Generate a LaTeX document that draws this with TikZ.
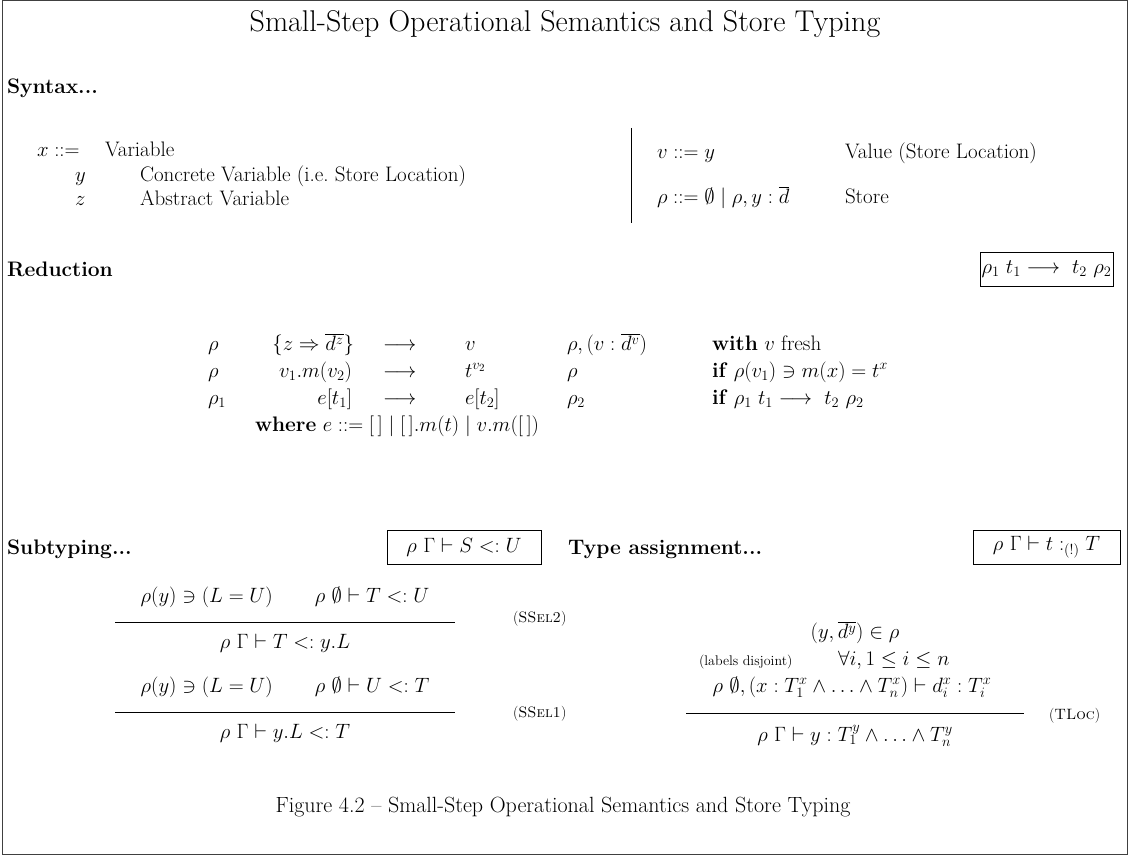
\documentclass[tikz,border=0pt]{standalone}
\usepackage{fontspec}
\tikzset{
  every node/.style={inner sep=0pt, outer sep=0pt},
  body/.style={font=\fontsize{21}{25}\selectfont},
  lbl/.style={body, anchor=base west},
  lble/.style={body, anchor=base east},
  ctr/.style={body, anchor=base},
  hd/.style={anchor=base west, font=\fontsize{21}{25}\selectfont\bfseries},
  judg/.style={draw, line width=0.7pt, body, minimum height=34pt},
  rname/.style={anchor=west, font=\fontsize{15}{18}\selectfont},
  small/.style={anchor=base west, font=\fontsize{14}{17}\selectfont},
  fracline/.style={line width=0.8pt},
  frame/.style={draw=black!75, line width=1pt},
}
\begin{document}
\begin{tikzpicture}[x=1pt,y=-1pt]
\useasboundingbox (0,0) rectangle (1129,856);
\draw[frame] (2,1) rectangle (1127,854);
% title
\node[anchor=base, font=\fontsize{30}{34}\selectfont] (title) at (565,32) {Small-Step Operational Semantics and Store Typing};
% syntax
\node[hd] (syn) at (7,94) {Syntax...};
\node[lbl] (x) at (37,157) {$x \mathrel{::=}$};
\node[lbl] (xd) at (105,157) {Variable};
\node[lbl] (y) at (75,181) {$y$};
\node[lbl] (yd) at (140,181) {Concrete Variable (i.e.\ Store Location)};
\node[lbl] (z) at (75,205) {$z$};
\node[lbl] (zd) at (140,205) {Abstract Variable};
\coordinate (bart) at (631,128);
\coordinate (barb) at (631,223);
\draw[line width=0.6pt] (bart) -- (barb);
\node[lbl] (v) at (657,158) {$v \mathrel{::=} y$};
\node[lbl] (vd) at (845,158) {Value (Store Location)};
\node[lbl] (rho) at (657,203) {$\rho \mathrel{::=} \emptyset \mid \rho, y : \overline{d}$};
\node[lbl] (rhod) at (845,203) {Store};
% reduction
\node[hd] (red) at (7,276) {Reduction};
\node[judg, minimum width=133pt] (redj) at (1046.5,269) {$\rho_1\ t_1 \longrightarrow\ t_2\ \rho_2$};
\node[lbl] (a1) at (208,350) {$\rho$};
\node[lble] (b1) at (354,350) {$\{z \Rightarrow \overline{d^z}\}$};
\node[lbl] (c1) at (383,350) {$\longrightarrow$};
\node[lbl] (d1) at (465,350) {$v$};
\node[lbl] (e1) at (567,350) {$\rho, (v : \overline{d^v})$};
\node[lbl] (f1) at (712,350) {\textbf{with} $v$ fresh};
\node[lbl] (a2) at (208,377) {$\rho$};
\node[lble] (b2) at (352,377) {$v_1.m(v_2)$};
\node[lbl] (c2) at (383,377) {$\longrightarrow$};
\node[lbl] (d2) at (465,377) {$t^{v_2}$};
\node[lbl] (e2) at (567,377) {$\rho$};
\node[lbl] (f2) at (712,377) {\textbf{if} $\rho(v_1) \ni m(x) = t^x$};
\node[lbl] (a3) at (208,404) {$\rho_1$};
\node[lble] (b3) at (352,404) {$e[t_1]$};
\node[lbl] (c3) at (383,404) {$\longrightarrow$};
\node[lbl] (d3) at (465,404) {$e[t_2]$};
\node[lbl] (e3) at (567,404) {$\rho_2$};
\node[lbl] (f3) at (712,404) {\textbf{if} $\rho_1\ t_1 \longrightarrow\ t_2\ \rho_2$};
\node[lbl] (wh) at (255,431) {\textbf{where} $e \mathrel{::=} [\,] \mid [\,].m(t) \mid v.m([\,])$};
% subtyping
\node[hd] (sub) at (7,554) {Subtyping...};
\node[judg, minimum width=154pt] (subj) at (464,547) {$\rho\ \Gamma \vdash S <: U$};
\node[hd] (ta) at (568,554) {Type assignment...};
\node[judg, minimum width=147pt] (taj) at (1046.5,547) {$\rho\ \Gamma \vdash t :_{(!)} T$};
% SSel2
\node[ctr] (s2p) at (285,602) {$\rho(y) \ni (L = U) \qquad \rho\ \emptyset \vdash T <: U$};
\coordinate (s2l) at (115,622);
\coordinate (s2r) at (455,622);
\draw[fracline] (s2l) -- (s2r);
\node[ctr] (s2c) at (285,648) {$\rho\ \Gamma \vdash T <: y.L$};
\node[rname] (s2n) at (513,619) {(\textsc{SSel2})};
% SSel1
\node[ctr] (s1p) at (285,692) {$\rho(y) \ni (L = U) \qquad \rho\ \emptyset \vdash U <: T$};
\coordinate (s1l) at (115,712);
\coordinate (s1r) at (455,712);
\draw[fracline] (s1l) -- (s1r);
\node[ctr] (s1c) at (285,738) {$\rho\ \Gamma \vdash y.L <: T$};
\node[rname] (s1n) at (513,714) {(\textsc{SSel1})};
% TLoc
\node[ctr] (t1) at (855,638) {$(y, \overline{d^y}) \in \rho$};
\node[small] (t2a) at (699,665) {(labels disjoint)};
\node[lbl] (t2b) at (838,665) {$\forall i, 1 \le i \le n$};
\node[ctr] (t3) at (852,692) {$\rho\ \emptyset, (x : T_1^x \wedge \ldots \wedge T_n^x) \vdash d_i^x : T_i^x$};
\coordinate (tll) at (686,713);
\coordinate (tlr) at (1024,713);
\draw[fracline] (tll) -- (tlr);
\node[ctr] (tc) at (855,741) {$\rho\ \Gamma \vdash y : T_1^y \wedge \ldots \wedge T_n^y$};
\node[rname] (tn) at (1049,716) {(\textsc{TLoc})};
% caption
\node[anchor=base, font=\fontsize{22}{26}\selectfont] (cap) at (563,812) {Figure 4.2 -- Small-Step Operational Semantics and Store Typing};
\end{tikzpicture}
\end{document}
